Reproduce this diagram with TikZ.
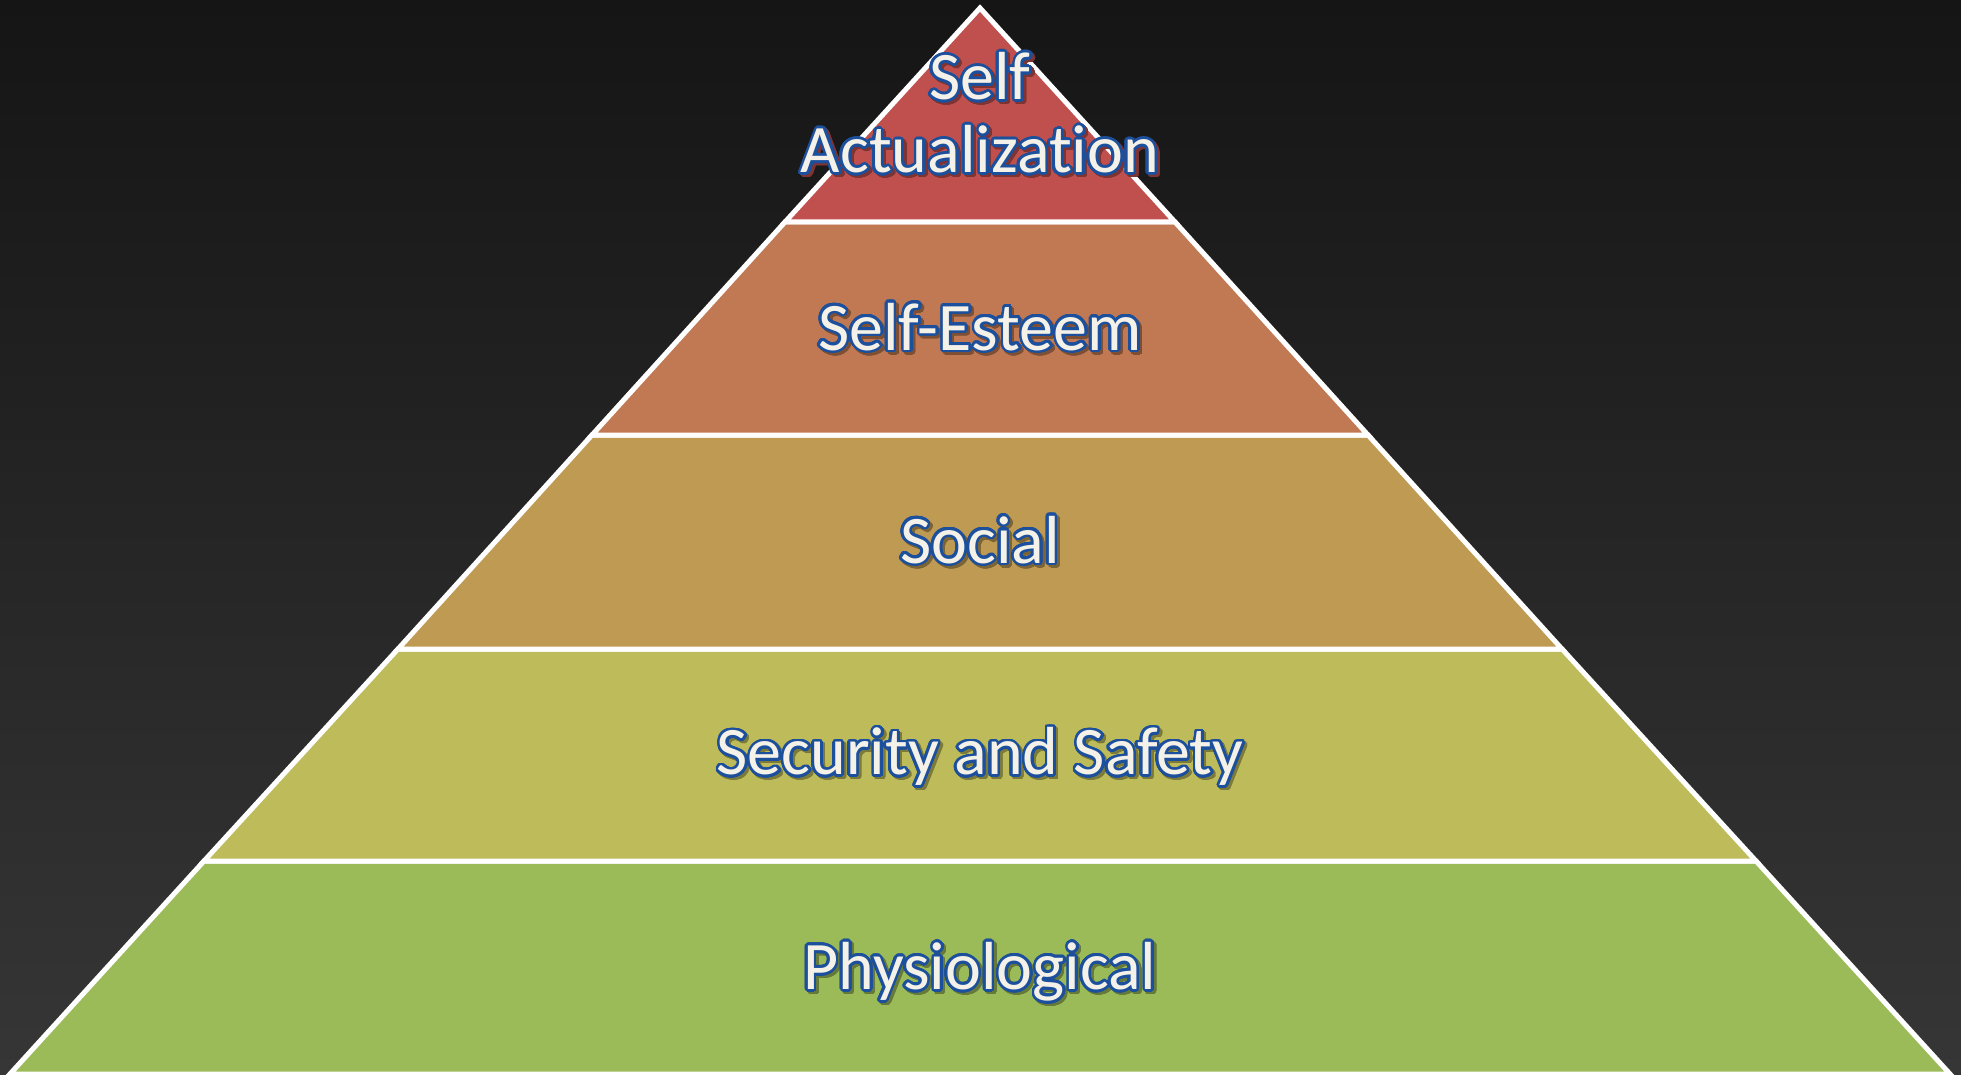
\documentclass[tikz,border=0pt]{standalone}
\usepackage{fontspec}
\setmainfont[Ligatures=NoCommon]{Carlito}
\usepackage{contour}
\contourlength{2.6pt}
\contournumber{32}

\definecolor{bgtop}{HTML}{151515}
\definecolor{bgbottom}{HTML}{363636}
\definecolor{actualcol}{HTML}{C0504D}
\definecolor{esteemcol}{HTML}{C07952}
\definecolor{socialcol}{HTML}{BE9A53}
\definecolor{safetycol}{HTML}{BDBB5A}
\definecolor{physiocol}{HTML}{9BBB59}
\definecolor{labelfill}{HTML}{F4F1E8}
\definecolor{labelline}{HTML}{1C4F9C}

\newcommand{\lbl}[1]{\textcolor{labelfill}{\contour{labelline}{#1}}}
\newcommand{\shd}[2]{\textcolor{#1}{\contour{#1}{#2}}}

\begin{document}
\begin{tikzpicture}[x=1pt, y=-1pt,
  layer/.style={draw=white, line width=5pt},
  levellabel/.style={font=\fontsize{68}{73}\selectfont, align=center}]
\useasboundingbox (0,0) rectangle (1961,1075);
\shade[top color=bgtop, bottom color=bgbottom] (0,0) rectangle (1961,1075);

% pyramid corners
\coordinate (apex) at (980,8);
\coordinate (l1) at (785,222);  \coordinate (r1) at (1175,222);
\coordinate (l2) at (592,435);  \coordinate (r2) at (1368,435);
\coordinate (l3) at (398,649);  \coordinate (r3) at (1562,649);
\coordinate (l4) at (204,861);  \coordinate (r4) at (1756,861);
\coordinate (l5) at (10,1074);  \coordinate (r5) at (1950,1074);

\draw[layer, fill=physiocol] (l4) -- (r4) -- (r5) -- (l5) -- cycle;
\draw[layer, fill=safetycol] (l3) -- (r3) -- (r4) -- (l4) -- cycle;
\draw[layer, fill=socialcol] (l2) -- (r2) -- (r3) -- (l3) -- cycle;
\draw[layer, fill=esteemcol] (l1) -- (r1) -- (r2) -- (l2) -- cycle;
\draw[layer, fill=actualcol] (apex) -- (r1) -- (l1) -- cycle;

% shadows
\node[levellabel] (actual-sh) at (982.5,116.5) {\shd{actualcol!65!black}{Self}\\\shd{actualcol!65!black}{Actualization}};
\node[levellabel] (esteem-sh) at (982.5,330.5) {\shd{esteemcol!65!black}{Self-Esteem}};
\node[levellabel] (social-sh) at (982.5,543.5) {\shd{socialcol!65!black}{Social}};
\node[levellabel] (safety-sh) at (982.5,760.5) {\shd{safetycol!65!black}{Security and Safety}};
\node[levellabel] (physio-sh) at (982.5,975.5) {\shd{physiocol!65!black}{Physiological}};

% labels
\node[levellabel] (actual) at (980,114) {\lbl{Self}\\\lbl{Actualization}};
\node[levellabel] (esteem) at (980,328) {\lbl{Self-Esteem}};
\node[levellabel] (social) at (980,541) {\lbl{Social}};
\node[levellabel] (safety) at (980,758) {\lbl{Security and Safety}};
\node[levellabel] (physio) at (980,973) {\lbl{Physiological}};
\end{tikzpicture}
\end{document}
